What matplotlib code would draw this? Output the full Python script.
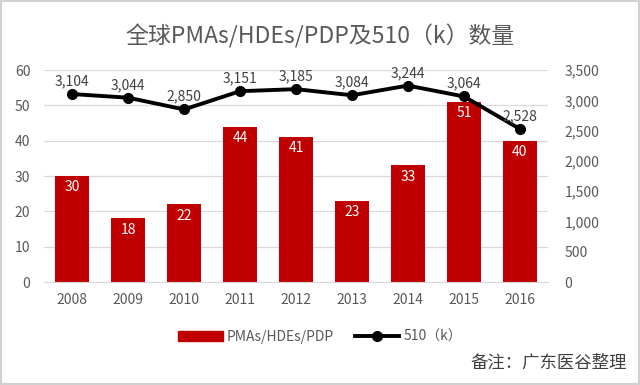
import matplotlib.pyplot as plt
import numpy as np
from matplotlib.lines import Line2D
from matplotlib.patches import Patch, Rectangle

plt.rcParams['font.family'] = ['Noto Sans CJK SC', 'DejaVu Sans']

years = ['2008', '2009', '2010', '2011', '2012', '2013', '2014', '2015', '2016']
pma_counts = [30, 18, 22, 44, 41, 23, 33, 51, 40]
k510_counts = [3104, 3044, 2850, 3151, 3185, 3084, 3244, 3064, 2528]

grey = '#595959'
red = '#C00000'

fig = plt.figure(figsize=(6.4, 3.85), dpi=100)
ax = fig.add_axes([0.069, 0.2675, 0.787, 0.5505])
ax2 = ax.twinx()

x = np.arange(len(years))
bars = ax.bar(x, pma_counts, width=0.62, color=red, zorder=2)
for xi, v in zip(x, pma_counts):
    ax.text(xi, v - 3.2, str(v), ha='center', va='center', color='white', fontsize=10)

ax.set_ylim(0, 60)
ax.set_yticks(range(0, 61, 10))
ax.set_xlim(-0.5, len(years) - 0.5)
ax.set_xticks(x)
ax.set_xticklabels(years)
ax.grid(axis='y', color='#D9D9D9', linewidth=0.9, zorder=0)
ax.set_axisbelow(True)

ax2.plot(x, k510_counts, color='black', linewidth=2.8, marker='o', markersize=7, zorder=3)
for xi, v in zip(x, k510_counts):
    ax2.text(xi, v + 95, f'{v:,}', ha='center', va='bottom', color='#404040', fontsize=10)
ax2.set_ylim(0, 3500)
ax2.set_yticks(range(0, 3501, 500))
ax2.set_yticklabels([f'{v:,}' for v in range(0, 3501, 500)])

for a in (ax, ax2):
    for s in a.spines.values():
        s.set_visible(False)
    a.tick_params(length=0, colors=grey, labelsize=10)
ax.spines['bottom'].set_visible(True)
ax.spines['bottom'].set_color('#D9D9D9')
ax.tick_params(axis='y', pad=10)
ax2.tick_params(axis='y', pad=12)
ax.tick_params(axis='x', pad=8)

fig.text(0.5, 0.905, '全球PMAs/HDEs/PDP及510（k）数量', ha='center', va='center',
         fontsize=16.5, color=grey)

handles = [Patch(color=red), Line2D([0], [0], color='black', linewidth=2.8, marker='o', markersize=7)]
fig.legend(handles, ['PMAs/HDEs/PDP', '510（k）'], loc='center', bbox_to_anchor=(0.5, 0.125),
           ncol=2, frameon=False, fontsize=10, labelcolor=grey, handlelength=3.2,
           handletextpad=0.3, columnspacing=1.5)

fig.text(0.98, 0.058, '备注：广东医谷整理', ha='right', va='center', fontsize=12.5, color='#404040')

fig.patches.append(Rectangle((0.002, 0.003), 0.996, 0.994, transform=fig.transFigure,
                             fill=False, edgecolor='#D0D0D0', linewidth=1.5))

fig.savefig('out.png', dpi=100)
